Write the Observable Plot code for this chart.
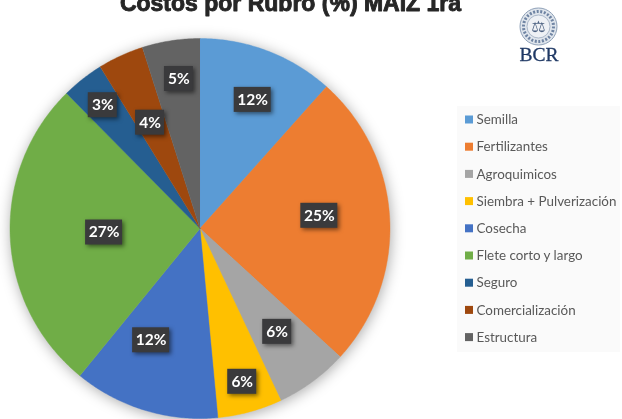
<!DOCTYPE html>
<html><head><meta charset="utf-8">
<script src="https://cdn.jsdelivr.net/npm/d3@7"></script>
<script src="https://cdn.jsdelivr.net/npm/@observablehq/plot@0.6"></script>
<style>html,body{margin:0;padding:0;background:#fff}svg{display:block;filter:blur(.45px)}</style>
</head><body><div id="chart"></div>
<script>
const categories = ["Semilla","Fertilizantes","Agroquimicos","Siembra + Pulverización","Cosecha","Flete corto y largo","Seguro","Comercialización","Estructura"];
const shares = [11.6,25.2,6.2,5.5,12.4,26.7,3.6,3.9,4.9];
const shareLabels = ["12%","25%","6%","6%","12%","27%","3%","4%","5%"];
const colors = ["#5B9BD5","#ED7D31","#A5A5A5","#FFC000","#4472C4","#70AD47","#255E91","#9E480E","#636363"];
const titleText = "Costos por Rubro (%) MAIZ 1ra";
const logoText = "BCR";

// layout in picture pixels
const W = 622, H = 419, cx = 199.5, cy = 228, R = 190;
const labelRadius = [139,120,129,159,122,96,157,117,151];
const labelTurn = [1.4,-3.2,-.4,-.1,6.7,.3,-.1,-.6,.8];
const seal = [{x:538,y:26}];

const arcs = d3.pie().sort(null).value(d => d)(shares);
const polar = (r, a) => ({x: cx + r * Math.sin(a), y: cy - r * Math.cos(a)});
const wedgePts = arcs.flatMap((a, i) => {
  const n = Math.ceil((a.endAngle - a.startAngle) / 0.01);
  const pts = [polar(0, 0)];
  for (let k = 0; k <= n; k++) pts.push(polar(R, a.startAngle + (a.endAngle - a.startAngle) * k / n));
  return pts.map(p => ({...p, cat: categories[i]}));
});
const labels = arcs.map((a, i) => ({
  ...polar(labelRadius[i], (a.startAngle + a.endAngle) / 2 + labelTurn[i] * Math.PI / 180),
  t: shareLabels[i]
}));
const legend = categories.map((c, i) => ({cat: c, y: 119.5 + i * 27.2}));
const withFilter = f => (index, scales, values, dims, ctx, next) => {
  const g = next(index, scales, values, dims, ctx);
  g.style.filter = f;
  return g;
};
const halfW = d => d.t.length === 3 ? 18.5 : 14.5;

const chart = Plot.plot({
  width: W, height: H, margin: 0,
  style: {background: "#fff"},
  x: {domain: [0, W], range: [0, W], axis: null},
  y: {domain: [0, H], range: [0, H], axis: null},
  color: {type: "ordinal", domain: categories, range: colors},
  marks: [
    Plot.text([titleText], {x: 290, y: 10, text: d => d, fontFamily: "Liberation Sans", fontWeight: 700, fontSize: 23, fill: "#262626", stroke: "#262626", strokeWidth: .9, lineAnchor: "bottom"}),
    Plot.line(wedgePts, {x: "x", y: "y", z: "cat", fill: "cat", stroke: "cat", strokeWidth: .4,
      render: withFilter("drop-shadow(1px 2px 7px rgba(0,0,0,.33))")}),
    Plot.rect(labels, {x1: d => d.x - halfW(d), x2: d => d.x + halfW(d), y1: d => d.y - 12.5, y2: d => d.y + 12.5, fill: "#3a3a3c", inset: 0,
      render: withFilter("drop-shadow(2px 2px 2px rgba(0,0,0,.5))")}),
    Plot.text(labels, {x: "x", y: "y", text: "t", fill: "#fff", fontFamily: "Lato", fontWeight: 700, fontSize: 15.5}),
    Plot.rect([0], {x1: 457, x2: 620, y1: 106, y2: 352, fill: "#fafafa"}),
    Plot.rect(legend, {x1: 465, x2: 473, y1: d => d.y - 4, y2: d => d.y + 4, fill: "cat"}),
    Plot.text(legend, {x: 476, y: "y", text: "cat", textAnchor: "start", fontFamily: "Lato", fontSize: 13.4, fill: "#595959"}),
    Plot.dot(seal, {x: "x", y: "y", r: 18.5, fill: "#dfe5ec", stroke: "#8fa1b8", strokeWidth: 1}),
    Plot.dot(seal, {x: "x", y: "y", r: 15, fill: "none", stroke: "#6f84a3", strokeWidth: 3, strokeDasharray: "2 1.6"}),
    Plot.dot(seal, {x: "x", y: "y", r: 11.5, fill: "#eef1f5", stroke: "#8fa1b8", strokeWidth: .7}),
    Plot.text(seal, {x: "x", y: "y", text: () => "⚖", fontFamily: "DejaVu Sans", fontSize: 16, fill: "#4d6282"}),
    Plot.text([logoText], {x: 538.5, y: 54, text: d => d, fontFamily: "Liberation Serif", fontSize: 19.5, fill: "#1f3864", stroke: "#1f3864", strokeWidth: .3})
  ]
});
document.getElementById("chart").append(chart);
</script></body></html>
